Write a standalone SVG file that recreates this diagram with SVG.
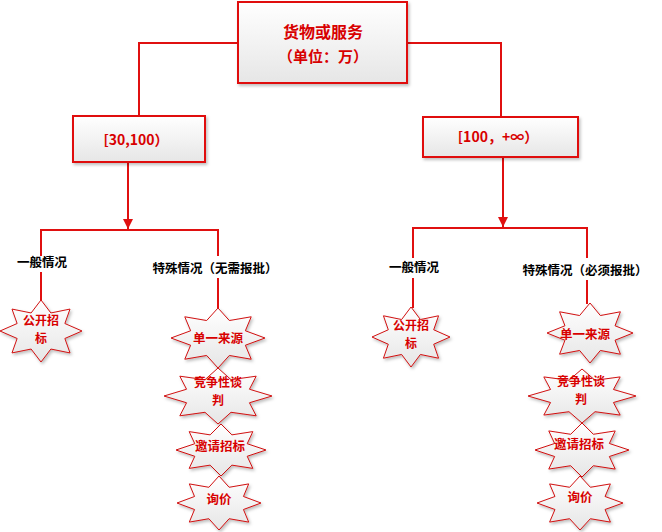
<svg xmlns="http://www.w3.org/2000/svg" width="662" height="532" viewBox="0 0 662 532">
<style>
.ln{stroke:#e01010;stroke-width:2;fill:none}
.box{fill:url(#g);stroke:#e01010;stroke-width:2;filter:url(#sh)}
.star{fill:url(#g);stroke:#d01010;stroke-width:1}
.rt{fill:#d80000;font-family:"Noto Sans CJK SC","Liberation Sans",sans-serif;font-weight:bold;text-anchor:middle}
.bt{fill:#000;font-family:"Noto Sans CJK SC",sans-serif;font-weight:bold;font-size:12.5px;text-anchor:middle}
.st{font-size:12.5px}
.s2{font-size:12px}
</style>
<defs>
<linearGradient id="g" x1="0" y1="0" x2="0" y2="1">
<stop offset="0" stop-color="#ffffff"/>
<stop offset="1" stop-color="#e6e6e6"/>
</linearGradient>
<filter id="sh" x="-10%" y="-10%" width="130%" height="140%">
<feDropShadow dx="1.5" dy="2" stdDeviation="1.5" flood-color="#000" flood-opacity="0.25"/>
</filter>
<marker id="ar" viewBox="0 0 10 10" refX="10" refY="5" markerWidth="5" markerHeight="5" orient="auto" markerUnits="strokeWidth">
<path d="M0,0 L10,5 L0,10 Z" fill="#e01010"/>
</marker>
<path id="sp" vector-effect="non-scaling-stroke" d="M0,-1 L0.2411,-0.5820 L0.7071,-0.7071 L0.5820,-0.2411 L1,0 L0.5820,0.2411 L0.7071,0.7071 L0.2411,0.5820 L0,1 L-0.2411,0.5820 L-0.7071,0.7071 L-0.5820,0.2411 L-1,0 L-0.5820,-0.2411 L-0.7071,-0.7071 L-0.2411,-0.5820 Z"/>
</defs>
<g id="connectors">
<path class="ln" d="M238,43 H139 V116"/>
<path class="ln" d="M407,43 H501 V117"/>
<path class="ln" d="M128,162 V229" marker-end="url(#ar)"/>
<path class="ln" d="M503,157 V227" marker-end="url(#ar)"/>
<path class="ln" d="M41,256 V230 H218 V256"/>
<path class="ln" d="M41,272 V301"/>
<path class="ln" d="M218,278 V309"/>
<path class="ln" d="M413,258 V228 H587 V258"/>
<path class="ln" d="M413,278 V308"/>
<path class="ln" d="M587,280 V304"/>
</g>
<g id="root">
<rect class="box" x="238" y="2" width="169" height="81"/>
<text class="rt" x="323" y="38" font-size="16">货物或服务</text>
<text class="rt" x="323" y="62" font-size="15">（单位：万）</text>
</g>
<g id="range1">
<rect class="box" x="73" y="116" width="132" height="46"/>
<text class="rt" x="136" y="145" font-size="14">[30,100）</text>
</g>
<g id="range2">
<rect class="box" x="423" y="117" width="155" height="40"/>
<text class="rt" x="498" y="142" font-size="14">[100，+∞）</text>
</g>
<g id="label-l1"><text class="bt" x="42" y="267">一般情况</text></g>
<g id="label-l2"><text class="bt" x="215" y="273">特殊情况（无需报批）</text></g>
<g id="label-r1"><text class="bt" x="414" y="272">一般情况</text></g>
<g id="label-r2"><text class="bt" x="585" y="275">特殊情况（必须报批）</text></g>
<g id="l-open">
<g filter="url(#sh)"><use href="#sp" class="star" transform="translate(41,331) scale(41,31)"/></g>
<text class="rt s2" x="41" y="324.5">公开招</text>
<text class="rt s2" x="41" y="342.5">标</text>
</g>
<g id="l-single">
<g filter="url(#sh)"><use href="#sp" class="star" transform="translate(218,338) scale(47,30)"/></g>
<text class="rt st" x="218" y="343">单一来源</text>
</g>
<g id="l-compete">
<g filter="url(#sh)"><use href="#sp" class="star" transform="translate(218,396) scale(54,28)"/></g>
<text class="rt s2" x="218" y="387">竞争性谈</text>
<text class="rt s2" x="218" y="405">判</text>
</g>
<g id="l-invite">
<g filter="url(#sh)"><use href="#sp" class="star" transform="translate(221,450) scale(45,26)"/></g>
<text class="rt st" x="220" y="451">邀请招标</text>
</g>
<g id="l-inquiry">
<g filter="url(#sh)"><use href="#sp" class="star" transform="translate(219,503) scale(42,27)"/></g>
<text class="rt st" x="219" y="504">询价</text>
</g>
<g id="r-open">
<g filter="url(#sh)"><use href="#sp" class="star" transform="translate(411,337) scale(39,30)"/></g>
<text class="rt s2" x="411" y="330">公开招</text>
<text class="rt s2" x="411" y="348">标</text>
</g>
<g id="r-single">
<g filter="url(#sh)"><use href="#sp" class="star" transform="translate(590,333) scale(43,30)"/></g>
<text class="rt st" x="585" y="339">单一来源</text>
</g>
<g id="r-compete">
<g filter="url(#sh)"><use href="#sp" class="star" transform="translate(582,396) scale(54,27)"/></g>
<text class="rt s2" x="581" y="386">竞争性谈</text>
<text class="rt s2" x="581" y="404">判</text>
</g>
<g id="r-invite">
<g filter="url(#sh)"><use href="#sp" class="star" transform="translate(582,450) scale(47,27)"/></g>
<text class="rt st" x="579" y="449">邀请招标</text>
</g>
<g id="r-inquiry">
<g filter="url(#sh)"><use href="#sp" class="star" transform="translate(580,503) scale(43,27)"/></g>
<text class="rt st" x="580" y="502">询价</text>
</g>
</svg>
